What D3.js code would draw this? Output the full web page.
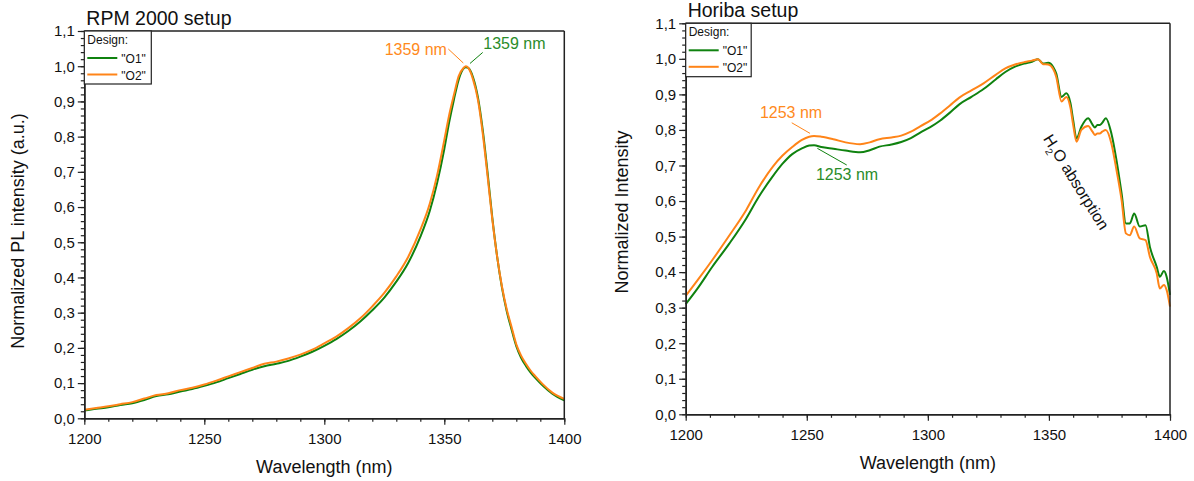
<!DOCTYPE html>
<html>
<head>
<meta charset="utf-8">
<script src="https://cdn.jsdelivr.net/npm/d3@7"></script>
<style>
  html, body { margin: 0; padding: 0; background: #fff; }
  svg { display: block; }
  text { font-family: "Liberation Sans", Arial, sans-serif; }
</style>
</head>
<body>
<svg id="chart" width="1194" height="481"></svg>
<script>
// ---------------- DATA ----------------
const seriesNames = ['"O1"', '"O2"'];
const xTickValues = [1200, 1250, 1300, 1350, 1400];
const yTickValues = [0, 0.1, 0.2, 0.3, 0.4, 0.5, 0.6, 0.7, 0.8, 0.9, 1.0, 1.1];

// RPM 2000 setup (left)
const rpmWavelength = [1200,1205,1210,1215,1220,1225,1230,1235,1240,1245,1250,1255,1260,1265,1270,1275,1280,1285,1290,1295,1300,1305,1310,1315,1320,1325,1330,1335,1340,1344,1347,1350,1352,1354,1356,1358,1359,1360,1362,1364,1366,1368,1370,1372,1374,1376,1378,1380,1382,1384,1386,1388,1391,1395,1400];
const rpmO1 = [0.022,0.027,0.031,0.038,0.043,0.052,0.063,0.068,0.076,0.083,0.092,0.102,0.114,0.126,0.138,0.148,0.155,0.163,0.175,0.189,0.206,0.225,0.248,0.275,0.307,0.343,0.388,0.442,0.515,0.590,0.668,0.765,0.840,0.905,0.962,0.993,0.997,0.995,0.968,0.912,0.820,0.700,0.570,0.460,0.372,0.305,0.253,0.205,0.172,0.149,0.130,0.114,0.093,0.070,0.051];
const rpmO2 = [0.024,0.029,0.034,0.040,0.046,0.056,0.066,0.071,0.080,0.087,0.096,0.107,0.119,0.131,0.143,0.155,0.161,0.170,0.181,0.195,0.213,0.232,0.256,0.284,0.318,0.356,0.403,0.459,0.535,0.611,0.690,0.790,0.860,0.918,0.972,0.995,1.000,0.995,0.962,0.905,0.810,0.690,0.565,0.460,0.375,0.310,0.260,0.210,0.178,0.155,0.135,0.119,0.097,0.073,0.055];

// Horiba setup (right)
const horibaWavelength = [1200,1205,1211,1218,1225,1230,1236,1240,1244,1248,1251,1253,1256,1261,1266,1272,1276,1280,1285,1289,1293,1297,1301,1305,1309,1313,1318,1323,1328,1332,1336,1340,1343,1345.5,1347.6,1349.7,1351.7,1353,1355.2,1357.2,1358.9,1360,1361.4,1363.4,1366.2,1368,1369,1370,1371,1372,1373.5,1375.8,1377.9,1380,1381.8,1383.4,1385.2,1387.5,1389.9,1391.7,1394.5,1395.8,1397.5,1398.6,1400];
const horibaO1 = [0.310,0.355,0.415,0.480,0.551,0.610,0.670,0.705,0.732,0.748,0.756,0.757,0.752,0.747,0.742,0.737,0.743,0.753,0.759,0.766,0.777,0.793,0.808,0.826,0.848,0.872,0.893,0.915,0.942,0.963,0.978,0.987,0.992,0.999,0.987,0.989,0.978,0.959,0.893,0.903,0.875,0.828,0.776,0.809,0.833,0.815,0.807,0.814,0.814,0.820,0.833,0.790,0.715,0.622,0.537,0.537,0.565,0.528,0.532,0.471,0.415,0.387,0.403,0.387,0.336];
const horibaO2 = [0.333,0.378,0.434,0.503,0.575,0.636,0.697,0.728,0.752,0.772,0.781,0.783,0.781,0.774,0.765,0.760,0.765,0.774,0.779,0.784,0.795,0.811,0.826,0.846,0.868,0.891,0.911,0.931,0.955,0.973,0.984,0.991,0.995,0.999,0.985,0.984,0.972,0.950,0.880,0.893,0.862,0.815,0.767,0.800,0.811,0.795,0.786,0.790,0.790,0.795,0.800,0.762,0.687,0.603,0.509,0.504,0.528,0.495,0.490,0.443,0.397,0.354,0.364,0.350,0.303];

// Peak annotations
const rpmPeakLabels = ["1359 nm", "1359 nm"];
const rpmPeakWavelength = [1359, 1359];
const horibaPeakLabels = ["1253 nm", "1253 nm"];
const horibaPeakWavelength = [1253, 1253];

// ---------------- STYLE ----------------
const GREEN = "#0f820f";
const ORANGE = "#ff8418";
const GREEN_TXT = "#2a8c2a";
const ORANGE_TXT = "#ff8a1c";
const colors = [GREEN, ORANGE];
const fmt = d => d3.format(".1f")(d).replace(".", ",");

const svg = d3.select("#chart");

function drawPanel(cfg) {
  const x = d3.scaleLinear().domain([1200, 1400]).range([cfg.x0, cfg.x1]);
  const y = d3.scaleLinear().domain([0, 1.1]).range([cfg.y0, cfg.y1]);
  const g = svg.append("g");

  const line = d3.line().curve(d3.curveMonotoneX)
    .x(d => x(d[0])).y(d => y(d[1]));
  cfg.series.forEach((vals, i) => {
    const pts = cfg.wl.map((w, k) => [w, vals[k]]);
    g.append("path").datum(pts)
      .attr("d", line)
      .attr("fill", "none")
      .attr("stroke", colors[i])
      .attr("stroke-width", 2)
      .attr("stroke-linejoin", "round");
  });

  g.append("line").attr("x1", cfg.x0).attr("x2", cfg.x1).attr("y1", cfg.y1).attr("y2", cfg.y1)
    .attr("stroke", "#222").attr("stroke-width", 1.5);
  g.append("line").attr("x1", cfg.x1).attr("x2", cfg.x1).attr("y1", cfg.y1).attr("y2", cfg.y0)
    .attr("stroke", "#222").attr("stroke-width", 1.5);

  const xMinor = g.append("g").attr("transform", `translate(0,${cfg.y0})`)
    .call(d3.axisBottom(x).tickValues(d3.range(1200, 1401, 10)).tickSize(3.5).tickSizeOuter(0).tickFormat(""));
  const xMajor = g.append("g").attr("transform", `translate(0,${cfg.y0})`)
    .call(d3.axisBottom(x).tickValues(xTickValues).tickSize(6.5).tickSizeOuter(0).tickPadding(6).tickFormat(d3.format("d")));
  const yMinor = g.append("g").attr("transform", `translate(${cfg.x0},0)`)
    .call(d3.axisLeft(y).tickValues(d3.range(0, 1.1001, 0.02)).tickSize(3.5).tickSizeOuter(0).tickFormat(""));
  const yMajor = g.append("g").attr("transform", `translate(${cfg.x0},0)`)
    .call(d3.axisLeft(y).tickValues(yTickValues).tickSize(6.5).tickSizeOuter(0).tickPadding(3).tickFormat(fmt));
  [xMinor, xMajor, yMinor, yMajor].forEach(a => {
    a.selectAll("path.domain").attr("stroke", "#222").attr("stroke-width", 1.5);
    a.selectAll(".tick line").attr("stroke", "#222").attr("stroke-width", 1.2);
    a.selectAll(".tick text").attr("font-size", 15).attr("fill", "#111")
      .attr("font-family", '"Liberation Sans", Arial, sans-serif');
  });
  xMajor.selectAll(".tick text").attr("dy", "0.85em");

  g.append("text").attr("x", cfg.x0 + 2).attr("y", cfg.y1 - 6)
    .attr("font-size", 19.5).attr("fill", "#111").text(cfg.title);
  g.append("text").attr("x", (cfg.x0 + cfg.x1) / 2).attr("y", cfg.y0 + 55)
    .attr("text-anchor", "middle").attr("font-size", 18).attr("fill", "#111")
    .text("Wavelength (nm)");
  g.append("text")
    .attr("transform", `translate(${cfg.yTitleX},${cfg.yTitleY}) rotate(-90)`)
    .attr("text-anchor", "middle").attr("font-size", 18).attr("fill", "#111")
    .text(cfg.yTitle);

  const lg = g.append("g").attr("transform", `translate(${cfg.x0},${cfg.y1})`);
  lg.append("rect").attr("x", 0).attr("y", 0).attr("width", cfg.legW).attr("height", cfg.legH)
    .attr("fill", "#fff").attr("stroke", "#222").attr("stroke-width", 1.2);
  lg.append("text").attr("x", 3).attr("y", 13).attr("font-size", 12).attr("fill", "#111").text("Design:");
  seriesNames.forEach((n, i) => {
    const yy = 27 + i * 16.5;
    lg.append("line").attr("x1", 3).attr("x2", 33).attr("y1", yy).attr("y2", yy)
      .attr("stroke", colors[i]).attr("stroke-width", 2);
    lg.append("text").attr("x", 37).attr("y", yy + 5).attr("font-size", 12).attr("fill", "#111").text(n);
  });

  return { x, y, g };
}

// ---------------- LEFT PANEL ----------------
const L = drawPanel({
  x0: 84.3, x1: 564.3, y0: 418.3, y1: 31,
  wl: rpmWavelength, series: [rpmO1, rpmO2],
  title: "RPM 2000 setup",
  yTitle: "Normalized PL intensity (a.u.)", yTitleX: 24, yTitleY: 231,
  legW: 67, legH: 53
});
{
  const px = L.x(rpmPeakWavelength[1]), py = L.y(rpmO2[rpmWavelength.indexOf(rpmPeakWavelength[1])]);
  L.g.append("line").attr("x1", px - 17.6).attr("y1", py - 17.2).attr("x2", px - 2.6).attr("y2", py - 3.2)
    .attr("stroke", ORANGE).attr("stroke-width", 1);
  L.g.append("text").attr("x", px - 19).attr("y", py - 11.5).attr("text-anchor", "end")
    .attr("font-size", 16).attr("fill", ORANGE_TXT).text(rpmPeakLabels[1]);
  const gx = L.x(rpmPeakWavelength[0]), gy = L.y(rpmO1[rpmWavelength.indexOf(rpmPeakWavelength[0])]);
  L.g.append("line").attr("x1", gx + 4.1).attr("y1", gy - 3.8).attr("x2", gx + 16.8).attr("y2", gy - 14.8)
    .attr("stroke", GREEN).attr("stroke-width", 1);
  L.g.append("text").attr("x", gx + 17.4).attr("y", gy - 18.2)
    .attr("font-size", 16).attr("fill", GREEN_TXT).text(rpmPeakLabels[0]);
}

// ---------------- RIGHT PANEL ----------------
const R = drawPanel({
  x0: 685.7, x1: 1170, y0: 414.3, y1: 23.3,
  wl: horibaWavelength, series: [horibaO1, horibaO2],
  title: "Horiba setup",
  yTitle: "Normalized Intensity", yTitleX: 628, yTitleY: 212,
  legW: 65.5, legH: 53.4
});
{
  const ox = R.x(horibaPeakWavelength[1]), oy = R.y(horibaO2[horibaWavelength.indexOf(horibaPeakWavelength[1])]);
  R.g.append("line").attr("x1", ox - 22.3).attr("y1", oy - 13.2).attr("x2", ox - 4).attr("y2", oy - 2.6)
    .attr("stroke", ORANGE).attr("stroke-width", 1);
  R.g.append("text").attr("x", ox - 23).attr("y", oy - 17.6).attr("text-anchor", "middle")
    .attr("font-size", 16).attr("fill", ORANGE_TXT).text(horibaPeakLabels[1]);
  const gx = R.x(horibaPeakWavelength[0]), gy = R.y(horibaO1[horibaWavelength.indexOf(horibaPeakWavelength[0])]);
  R.g.append("line").attr("x1", gx + 3.3).attr("y1", gy + 3.1).attr("x2", gx + 32.7).attr("y2", gy + 19.8)
    .attr("stroke", GREEN).attr("stroke-width", 1);
  R.g.append("text").attr("x", gx + 33).attr("y", gy + 34.8).attr("text-anchor", "middle")
    .attr("font-size", 16).attr("fill", GREEN_TXT).text(horibaPeakLabels[0]);

  const t = R.g.append("text")
    .attr("transform", `translate(${R.x(1347.5)},${R.y(0.775)}) rotate(58)`)
    .attr("font-size", 16).attr("fill", "#111");
  t.append("tspan").text("H");
  t.append("tspan").attr("font-size", 10).attr("dy", 5).text("2");
  t.append("tspan").attr("dy", -5).text("O absorption");
}
</script>
</body>
</html>
